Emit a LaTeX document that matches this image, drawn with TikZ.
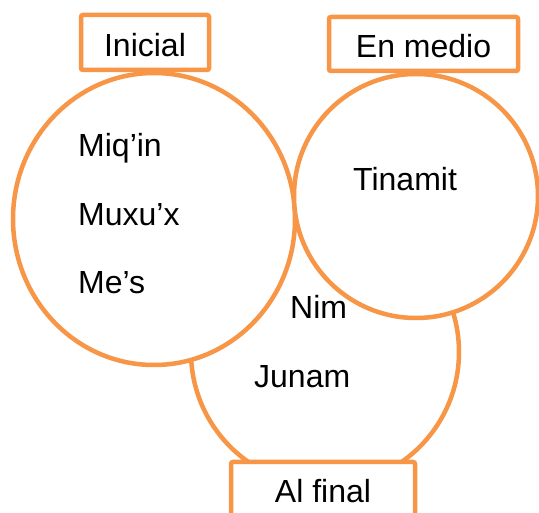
\documentclass[tikz,border=0pt]{standalone}
\usepackage{fontspec}
\setmainfont{Liberation Sans}
\usetikzlibrary{shapes.geometric}
\definecolor{accent}{HTML}{F79646}
\begin{document}
\begin{tikzpicture}[x=1pt,y=-1pt,
  ring/.style={draw=accent,line width=4.5pt,fill=white,inner sep=0pt},
  tag/.style={draw=accent,line width=4.5pt,fill=white,rounded corners=2pt,inner sep=0pt},
  word/.style={font=\fontsize{32}{38}\selectfont,inner sep=0pt,anchor=base west},
  tagword/.style={font=\fontsize{32}{38}\selectfont,inner sep=0pt,anchor=base}]
\useasboundingbox (0,0) rectangle (539,513);
\begin{scope}
\clip (0,0) rectangle (539,513);
% the three circles
\node[ring,circle,minimum size=268pt] (final) at (325,352) {};
\node[ring,ellipse,minimum width=282pt,minimum height=292pt] (inicio) at (154,219) {};
\node[ring,circle,minimum size=244pt] (medio) at (416,196) {};
% label boxes
\node[tag,minimum width=128pt,minimum height=55pt] (bInicial) at (145,42.5) {};
\node[tag,minimum width=189pt,minimum height=54pt] (bMedio) at (423.5,44) {};
\node[tag,minimum width=184pt,minimum height=64pt] (bFinal) at (323,494) {};
% box labels
\node[tagword] (tInicial) at (145,57) {Inicial};
\node[tagword] (tMedio) at (423.5,58) {En medio};
\node[tagword] (tFinal) at (323,503) {Al final};
% words inside the circles
\node[word] (w1) at (78,157) {Miq’in};
\node[word] (w2) at (78,226) {Muxu’x};
\node[word] (w3) at (78,294) {Me’s};
\node[word] (w4) at (353,191) {Tinamit};
\node[word] (w5) at (290,319) {Nim};
\node[word] (w6) at (254,388) {Junam};
\end{scope}
\end{tikzpicture}
\end{document}
